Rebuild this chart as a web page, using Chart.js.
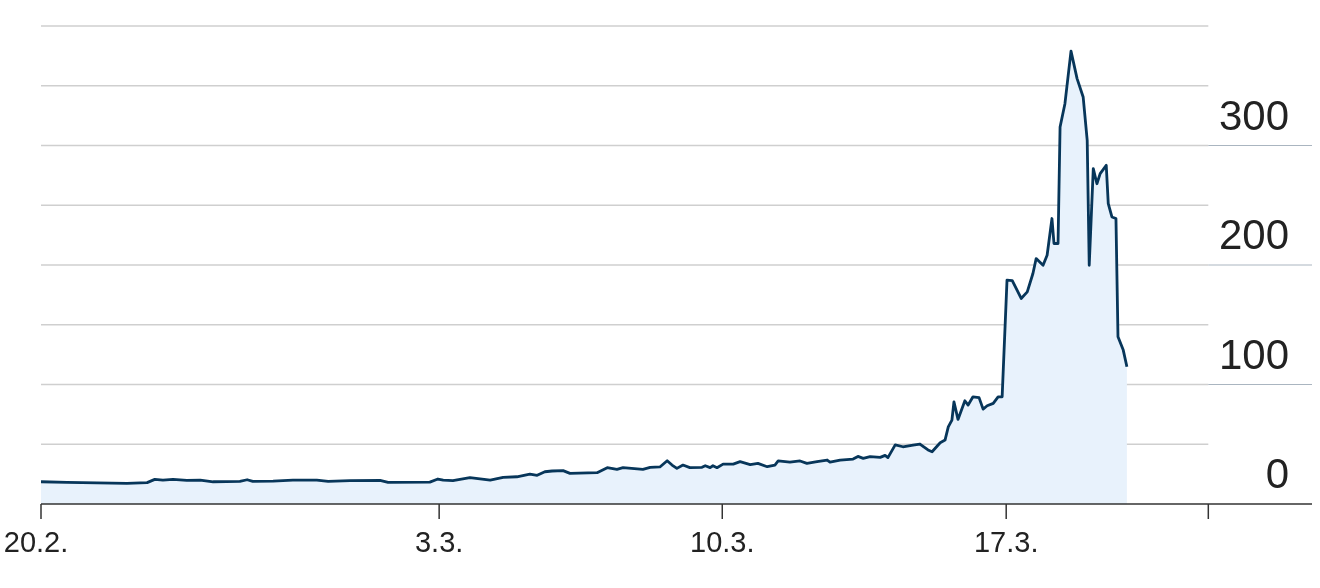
<!DOCTYPE html>
<html>
<head>
<meta charset="utf-8">
<script src="https://cdn.jsdelivr.net/npm/chart.js@4.4.1/dist/chart.umd.min.js"></script>
<style>
  html, body { margin: 0; padding: 0; background: #fff; }
  #wrap { width: 1320px; height: 588px; }
</style>
</head>
<body>
<div id="wrap"><canvas id="chartLine"></canvas></div>
<script>
// days counted from 20.2.
const days = [0, 0.64, 2.12, 2.62, 2.81, 3.01, 3.26, 3.60, 3.93, 4.25, 4.91, 5.09, 5.23, 5.73, 6.22, 6.81,
  7.09, 7.63, 8.37, 8.57, 9.60, 9.80, 9.93, 10.17, 10.59, 11.09, 11.41, 11.75, 12.07, 12.25, 12.44, 12.62,
  12.89, 13.06, 13.73, 13.98, 14.22, 14.37, 14.86, 15.04, 15.28, 15.46, 15.58, 15.70, 15.85, 16.02, 16.32,
  16.40, 16.52, 16.59, 16.69, 16.84, 17.09, 17.26, 17.51, 17.70, 17.93, 18.12, 18.20, 18.49, 18.74, 18.91,
  19.16, 19.41, 19.48, 19.73, 20.05, 20.17, 20.30, 20.47, 20.72, 20.84, 20.91, 21.09, 21.28, 21.53, 21.70,
  21.90, 22.00, 22.20, 22.32, 22.40, 22.49, 22.54, 22.64, 22.81, 22.89, 23.01, 23.16, 23.26, 23.36, 23.51,
  23.63, 23.73, 23.85, 23.98, 24.20, 24.35, 24.49, 24.57, 24.74, 24.84, 24.96, 25.01, 25.11, 25.16, 25.28,
  25.43, 25.58, 25.73, 25.83, 25.88, 25.98, 26.07, 26.15, 26.30, 26.35, 26.44, 26.54, 26.59, 26.72, 26.81];
const values = [18.6, 18.1, 17.3, 17.9, 20.6, 20.0, 20.6, 19.7, 20.0, 18.6, 18.9, 20.3, 18.9, 19.2, 20.0, 20.0,
  19.0, 19.5, 19.8, 18.1, 18.3, 20.9, 20.0, 19.5, 22.0, 20.0, 22.3, 22.8, 25.0, 24.0, 27.0, 27.6,
  27.9, 25.6, 26.2, 30.4, 29.0, 30.4, 29.0, 30.7, 31.0, 36.2, 32.6, 29.8, 32.6, 30.4, 30.7,
  32.0, 30.4, 32.0, 30.4, 33.4, 33.4, 35.4, 33.0, 34.0, 31.2, 32.6, 36.0, 35.0, 36.0, 34.0,
  35.5, 36.8, 35.0, 36.8, 37.6, 39.8, 38.2, 39.6, 39.0, 40.7, 38.8, 49.5, 47.9, 49.3, 50.2,
  45.2, 43.7, 51.3, 53.5, 64.6, 70.2, 85.5, 70.8, 86.4, 82.8, 89.7, 89.0, 79.4, 82.2, 84.2,
  89.7, 89.7, 187.3, 187.0, 172.0, 177.5, 192.9, 205.4, 199.8, 208.2, 238.9, 218.0, 218.0, 315.5, 335.0,
  379.0, 356.0, 340.6, 304.3, 199.8, 280.7, 268.0, 276.5, 283.4, 251.4, 240.2, 238.9, 139.9, 128.8, 114.8];

const tickDays = [0, 9.83, 16.82, 23.83, 28.82];
const tickLabels = ['20.2.', '3.3.', '10.3.', '17.3.', ''];
const gridValues = [50, 100, 150, 200, 250, 300, 350, 400];
const labelValues = [0, 100, 200, 300];

const axisPlugin = {
  id: 'axisPlugin',
  beforeDatasetsDraw(chart) {
    const { ctx, chartArea } = chart;
    const x = chart.scales.x, y = chart.scales.y;
    const xEnd = x.getPixelForValue(tickDays[tickDays.length - 1]);
    ctx.save();
    gridValues.forEach(v => {
      const py = y.getPixelForValue(v);
      ctx.strokeStyle = '#cfcfcf';
      ctx.lineWidth = 1.5;
      ctx.beginPath();
      ctx.moveTo(chartArea.left, py);
      ctx.lineTo(xEnd, py);
      ctx.stroke();
      if (labelValues.includes(v)) {
        ctx.strokeStyle = '#aab5c0';
        ctx.lineWidth = 1;
        ctx.beginPath();
        ctx.moveTo(xEnd, py);
        ctx.lineTo(chartArea.right, py);
        ctx.stroke();
      }
    });
    ctx.restore();
  },
  afterDatasetsDraw(chart) {
    const { ctx, chartArea } = chart;
    const x = chart.scales.x, y = chart.scales.y;
    const y0 = y.getPixelForValue(0);
    ctx.save();
    ctx.strokeStyle = '#333';
    ctx.lineWidth = 1.5;
    ctx.beginPath();
    ctx.moveTo(chartArea.left, y0);
    ctx.lineTo(chartArea.right, y0);
    ctx.stroke();
    ctx.fillStyle = '#222';
    ctx.font = '29px "Liberation Sans", Arial, sans-serif';
    ctx.textAlign = 'center';
    ctx.textBaseline = 'alphabetic';
    tickDays.forEach((d, i) => {
      const px = x.getPixelForValue(d);
      ctx.beginPath();
      ctx.moveTo(px, y0);
      ctx.lineTo(px, y0 + 15);
      ctx.stroke();
      if (tickLabels[i]) {
        const lx = i === 0 ? px - 5 : px;
        ctx.fillText(tickLabels[i], lx, y0 + 48);
      }
    });
    ctx.font = '42px "Liberation Sans", Arial, sans-serif';
    ctx.textAlign = 'right';
    labelValues.forEach(v => {
      ctx.fillText(String(v), 1289, y.getPixelForValue(v) - 16);
    });
    ctx.restore();
  }
};

const points = days.map((d, i) => ({ x: d, y: values[i] }));

const config = {
  type: 'line',
  data: {
    datasets: [{
      data: points,
      borderColor: '#07365a',
      backgroundColor: '#e8f2fc',
      borderWidth: 2.8,
      borderJoinStyle: 'round',
      pointRadius: 0,
      tension: 0,
      fill: 'origin'
    }]
  },
  options: {
    responsive: true,
    maintainAspectRatio: false,
    animation: false,
    layout: { padding: { left: 41, right: 8, top: 26, bottom: 84 } },
    plugins: { legend: { display: false }, tooltip: { enabled: false } },
    scales: {
      x: { type: 'linear', min: 0, max: 31.38, display: false },
      y: { min: 0, max: 400, display: false }
    }
  },
  plugins: [axisPlugin]
};

const chartLine = new Chart(document.getElementById('chartLine'), config);
</script>
</body>
</html>
